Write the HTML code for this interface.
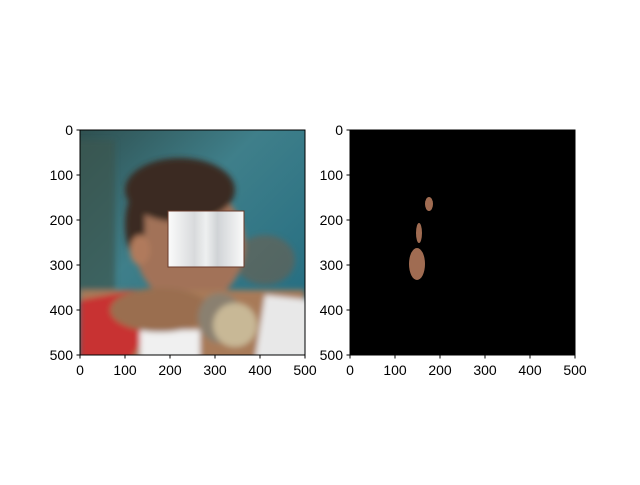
<!DOCTYPE html>
<html><head><meta charset="utf-8"><style>
body{margin:0;background:#fff;}
svg text{font-family:"Liberation Sans","DejaVu Sans",sans-serif;font-size:14px;fill:#000;}
</style></head><body>
<svg width="640" height="480" viewBox="0 0 640 480">
<defs>
<linearGradient id="bg" x1="0" y1="0" x2="1" y2="1">
<stop offset="0" stop-color="#2f5050"/><stop offset="0.4" stop-color="#3f7f8a"/><stop offset="1" stop-color="#1f6a80"/>
</linearGradient>
<linearGradient id="book" x1="0" y1="0" x2="1" y2="0">
<stop offset="0" stop-color="#fbfbfb"/><stop offset="0.35" stop-color="#d8dadc"/><stop offset="0.5" stop-color="#eef0f0"/><stop offset="0.65" stop-color="#d0d3d6"/><stop offset="1" stop-color="#fafafa"/>
</linearGradient>
<filter id="blur"><feGaussianBlur stdDeviation="3"/></filter>
<clipPath id="c1"><rect x="80" y="130" width="225" height="225"/></clipPath>
</defs>
<g clip-path="url(#c1)">
<rect x="80" y="130" width="225" height="225" fill="url(#bg)"/>
<g filter="url(#blur)">
<rect x="75" y="140" width="40" height="150" fill="#3d5750" opacity="0.7"/>
<ellipse cx="265" cy="260" rx="30" ry="25" fill="#7a5a40" opacity="0.5"/>
<ellipse cx="190" cy="245" rx="55" ry="60" fill="#a27258"/>
<ellipse cx="180" cy="190" rx="55" ry="32" fill="#3a2a20"/>
<ellipse cx="135" cy="225" rx="10" ry="30" fill="#3a2a20"/>
<ellipse cx="140" cy="250" rx="10" ry="15" fill="#b07a5c"/>
<rect x="80" y="290" width="225" height="70" fill="#a87a58"/>
<polygon points="80,300 135,290 150,330 130,360 80,360" fill="#c83030"/>
<polygon points="265,295 310,300 310,360 255,360" fill="#e8e8e8"/>
<rect x="140" y="330" width="60" height="30" fill="#f0f0f0"/>
<ellipse cx="160" cy="310" rx="50" ry="22" fill="#9a6e50"/>
<ellipse cx="220" cy="318" rx="22" ry="25" fill="#8a8070"/>
<ellipse cx="235" cy="325" rx="22" ry="22" fill="#c8b896"/>
</g>
<rect x="168" y="211" width="76" height="56" fill="url(#book)" stroke="#6a3a2a" stroke-width="1"/>
</g>
<rect x="80" y="130" width="225" height="225" fill="none" stroke="#000"/>
<g>
<rect x="350" y="130" width="225" height="225" fill="#000"/>
<ellipse cx="429" cy="204" rx="4" ry="7" fill="#a06c52"/>
<ellipse cx="419" cy="233" rx="3" ry="10" fill="#a06c52"/>
<ellipse cx="417" cy="264" rx="8" ry="16" fill="#a06c52"/>
</g>
<rect x="350" y="130" width="225" height="225" fill="none" stroke="#000"/>
<g id="ticks"></g>
</svg>
<script>
const ticks=[0,100,200,300,400,500];
const g=document.getElementById('ticks');
const NS='http://www.w3.org/2000/svg';
function add(tag,attrs,txt){const e=document.createElementNS(NS,tag);for(const k in attrs)e.setAttribute(k,attrs[k]);if(txt!==undefined)e.textContent=txt;g.appendChild(e);return e;}
[80,350].forEach(ox=>{
 ticks.forEach(t=>{
  const p=t*0.45;
  let l=add('line',{x1:ox+p,x2:ox+p,y1:355,y2:358.5,stroke:'#000'});
  
  
  let tx=add('text',{x:ox+p,y:375,'text-anchor':'middle'},t);
  
  
  let l2=add('line',{x1:ox-3.5,x2:ox,y1:130+p,y2:130+p,stroke:'#000'});
  
  
  let ty=add('text',{x:ox-7,y:135+p,'text-anchor':'end'},t);
  
  
 });
});
</script>
</body></html>
